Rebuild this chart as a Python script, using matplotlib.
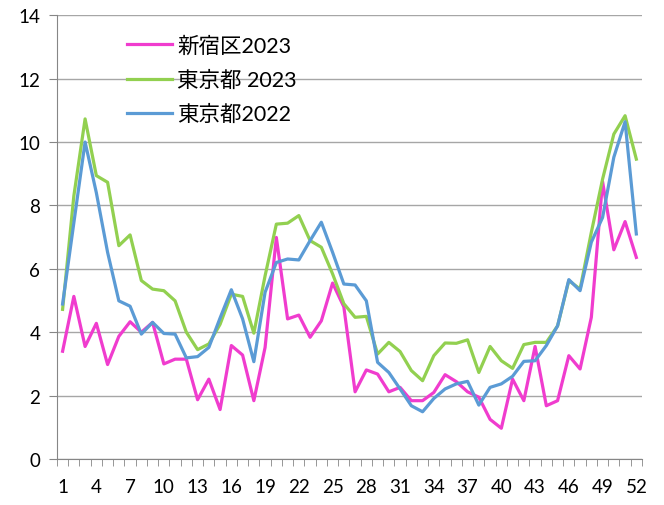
import numpy as np
import matplotlib.pyplot as plt

# 週ごとの定点当たり報告数
weeks = np.arange(1, 53)
shinjuku_2023 = [3.40, 5.13, 3.55, 4.28, 2.98, 3.87, 4.33, 4.00, 4.31, 3.00,
                 3.15, 3.15, 1.87, 2.52, 1.56, 3.58, 3.28, 1.84, 3.52, 6.99,
                 4.42, 4.54, 3.84, 4.36, 5.55, 4.80, 2.12, 2.81, 2.68, 2.12,
                 2.26, 1.84, 1.84, 2.10, 2.66, 2.44, 2.12, 1.95, 1.25, 0.97,
                 2.52, 1.84, 3.55, 1.68, 1.84, 3.26, 2.84, 4.47, 8.75, 6.60,
                 7.49, 6.36]
tokyo_2023 = [4.72, 8.30, 10.73, 8.94, 8.73, 6.73, 7.07, 5.63, 5.36, 5.31,
              4.99, 4.00, 3.45, 3.63, 4.25, 5.20, 5.13, 3.97, 5.78, 7.41,
              7.44, 7.68, 6.89, 6.68, 5.84, 4.90, 4.47, 4.50, 3.31, 3.68,
              3.39, 2.79, 2.47, 3.26, 3.66, 3.65, 3.76, 2.73, 3.55, 3.10,
              2.86, 3.61, 3.68, 3.68, 4.20, 5.63, 5.36, 7.15, 8.83, 10.25,
              10.83, 9.46]
tokyo_2022 = [4.89, 7.45, 10.00, 8.40, 6.52, 4.99, 4.82, 3.94, 4.31, 3.96,
              3.94, 3.19, 3.23, 3.52, 4.45, 5.34, 4.42, 3.07, 5.26, 6.20,
              6.31, 6.28, 6.89, 7.47, 6.52, 5.52, 5.49, 4.99, 3.05, 2.73,
              2.21, 1.68, 1.49, 1.91, 2.21, 2.37, 2.45, 1.70, 2.26, 2.37,
              2.61, 3.08, 3.10, 3.58, 4.20, 5.66, 5.31, 6.84, 7.62, 9.52,
              10.64, 7.10]

plt.rcParams['font.family'] = ['Lato', 'Noto Sans CJK JP', 'DejaVu Sans']

fig = plt.figure(figsize=(6.64, 5.06), dpi=100)
ax = fig.add_axes([0.0858, 0.0909, 0.881, 0.877])

ax.plot(weeks, shinjuku_2023, color="#F03CCE", lw=2.3, label="新宿区2023")
ax.plot(weeks, tokyo_2023, color="#92D050", lw=2.3, label="東京都 2023")
ax.plot(weeks, tokyo_2022, color="#5B9BD5", lw=2.3, label="東京都2022")

ax.set_xlim(0.5, 52.5)
ax.set_ylim(0, 14)
ax.set_yticks(np.arange(0, 15, 2))
ax.set_xticks(np.arange(1, 53, 3))
ax.set_xticks(np.arange(0.5, 53, 1), minor=True)
ax.tick_params(axis='x', which='major', length=0, pad=14, labelsize=13.5)
ax.tick_params(axis='x', which='minor', length=5, color="#868686", direction='out')
ax.tick_params(axis='y', length=6, color="#868686", pad=6, labelsize=13.5)

ax.grid(axis='y', color="#A6A6A6", lw=1)
ax.set_axisbelow(True)
for s in ['top', 'right']:
    ax.spines[s].set_visible(False)
for s in ['left', 'bottom']:
    ax.spines[s].set_color("#868686")

ax.legend(loc='upper left', bbox_to_anchor=(0.086, 0.998), frameon=False,
          fontsize=15.5, handlelength=2.1, labelspacing=0.65, handletextpad=0.25)

fig.savefig("out.png", dpi=100)
